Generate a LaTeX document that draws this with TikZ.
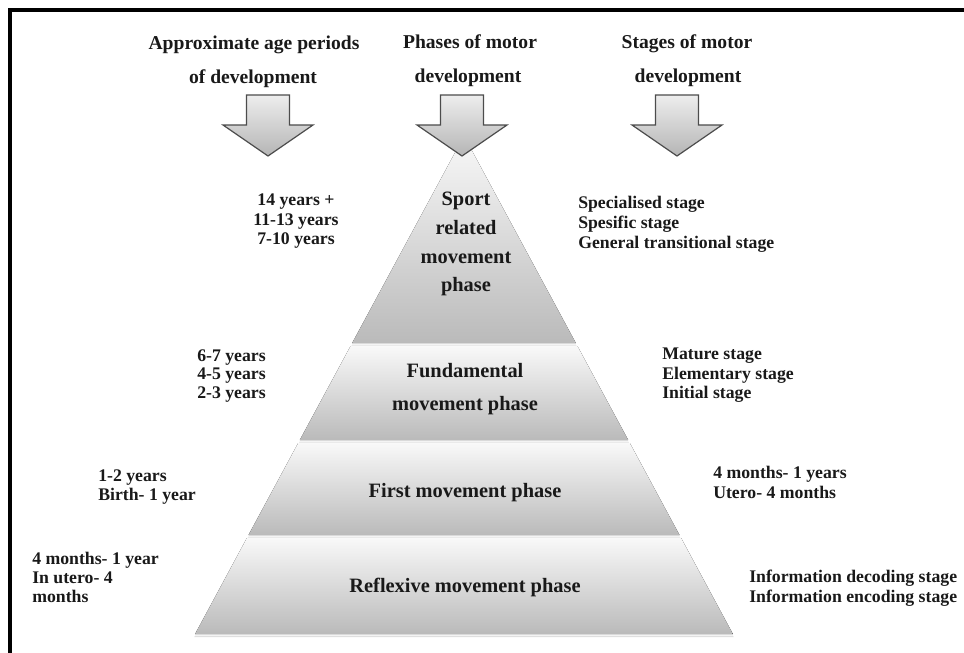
\documentclass[tikz,border=0pt]{standalone}
\usepackage{fontspec}
\setmainfont{Liberation Serif}
\begin{document}
\begin{tikzpicture}[x=0.75pt,y=-0.75pt,
  hdr/.style={font=\fontsize{14.7}{17}\selectfont\bfseries, anchor=base, inner sep=0pt, text=black!90},
  phasetxt/.style={font=\fontsize{15.3}{18}\selectfont\bfseries, anchor=base, inner sep=0pt, text=black!90},
  bodyl/.style={font=\fontsize{13.3}{15}\selectfont\bfseries, anchor=base west, inner sep=0pt, text=black!90},
  bodyc/.style={font=\fontsize{13.3}{15}\selectfont\bfseries, anchor=base, inner sep=0pt, text=black!90},
  layer/.style={top color=gray!5, bottom color=gray!54, draw=none},
  layershadow/.style={fill=gray!25, draw=none},
  blockarrow/.style={top color=gray!14, bottom color=gray!58, draw=black!70, line width=0.9pt, line join=miter}
]
\useasboundingbox (0,0) rectangle (964,653);
% frame
\draw[line width=3pt, line join=miter] (964,9.5) -- (10,9.5) -- (10,660);

% soft shadows under pyramid layers
\fill[layershadow] (352.2,344.5) -- (575.8,344.5) -- (576.6,345.5) -- (351.4,345.5) -- cycle;
\fill[layershadow] (299.8,441.5) -- (628.2,441.5) -- (629,442.5) -- (299,442.5) -- cycle;
\fill[layershadow] (248.5,536.5) -- (679.5,536.5) -- (680.3,537.5) -- (247.7,537.5) -- cycle;
\fill[layershadow] (195.1,635.5) -- (732.9,635.5) -- (733.7,637) -- (194.3,637) -- cycle;

% pyramid layers
\fill[layer] (464,136) -- (575.8,343) -- (352.2,343) -- cycle;
\fill[layer] (350.6,346) -- (577.4,346) -- (628.2,440) -- (299.8,440) -- cycle;
\fill[layer] (298.2,443) -- (629.8,443) -- (679.5,535) -- (248.5,535) -- cycle;
\fill[layer] (246.9,538) -- (681.1,538) -- (732.9,634) -- (195.1,634) -- cycle;

% block arrows
\draw[blockarrow] (246.5,95) -- (289.5,95) -- (289.5,125) -- (313,125) -- (268,156) -- (223,125) -- (246.5,125) -- cycle;
\draw[blockarrow] (440.5,95) -- (483.5,95) -- (483.5,125) -- (507,125) -- (462,156) -- (417,125) -- (440.5,125) -- cycle;
\draw[blockarrow] (655.5,95) -- (698.5,95) -- (698.5,125) -- (722,125) -- (677,156) -- (632,125) -- (655.5,125) -- cycle;

% headers
\node[hdr] (h1a) at (254,49) {Approximate age periods};
\node[hdr] (h1b) at (253,83) {of development};
\node[hdr] (h2a) at (470,48) {Phases of motor};
\node[hdr] (h2b) at (468,82) {development};
\node[hdr] (h3a) at (687,48) {Stages of motor};
\node[hdr] (h3b) at (688,82) {development};

% phase labels
\node[phasetxt] (p1a) at (466,205) {Sport};
\node[phasetxt] (p1b) at (466,234) {related};
\node[phasetxt] (p1c) at (466,263) {movement};
\node[phasetxt] (p1d) at (466,291) {phase};
\node[phasetxt] (p2a) at (465,377) {Fundamental};
\node[phasetxt] (p2b) at (465,410) {movement phase};
\node[phasetxt] (p3) at (465,497) {First movement phase};
\node[phasetxt] (p4) at (465,592) {Reflexive movement phase};

% age periods (left)
\node[bodyc] (a1a) at (296,205) {14 years +};
\node[bodyc] (a1b) at (296,225) {11-13 years};
\node[bodyc] (a1c) at (296,244) {7-10 years};
\node[bodyl] (a2a) at (197,361) {6-7 years};
\node[bodyl] (a2b) at (197,379) {4-5 years};
\node[bodyl] (a2c) at (197,398) {2-3 years};
\node[bodyl] (a3a) at (98,481) {1-2 years};
\node[bodyl] (a3b) at (98,500) {Birth- 1 year};
\node[bodyl] (a4a) at (32,564) {4 months- 1 year};
\node[bodyl] (a4b) at (32,583) {In utero- 4};
\node[bodyl] (a4c) at (32,602) {months};

% stages (right)
\node[bodyl] (s1a) at (578,208) {Specialised stage};
\node[bodyl] (s1b) at (578,228) {Spesific stage};
\node[bodyl] (s1c) at (578,248) {General transitional stage};
\node[bodyl] (s2a) at (662,359) {Mature stage};
\node[bodyl] (s2b) at (662,379) {Elementary stage};
\node[bodyl] (s2c) at (662,398) {Initial stage};
\node[bodyl] (s3a) at (713,478) {4 months- 1 years};
\node[bodyl] (s3b) at (713,498) {Utero- 4 months};
\node[bodyl] (s4a) at (749,582) {Information decoding stage};
\node[bodyl] (s4b) at (749,602) {Information encoding stage};
\end{tikzpicture}
\end{document}
